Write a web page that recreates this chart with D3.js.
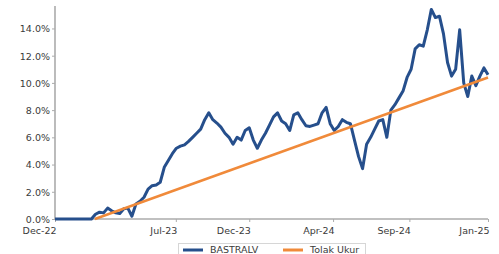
<!DOCTYPE html>
<meta charset="utf-8">
<html>
<head>
<style>
  body { margin: 0; background: #fff; }
  svg text { font-family: "DejaVu Sans", sans-serif; font-size: 9.5px; fill: #3a3a3a; }
  .axis path, .axis line { stroke: #ababab; }
</style>
</head>
<body>
<script src="https://cdn.jsdelivr.net/npm/d3@7"></script>
<script>
// weekly fund return (%), first week 2022-12-30
var startDate = "2022-12-30";
var fundValues = [
  0, 0, 0, 0, 0, 0, 0, 0, 0, 0,
  0.35, 0.5, 0.45, 0.8, 0.6, 0.45, 0.4, 0.75, 0.8, 0.2,
  1.1, 1.3, 1.6, 2.2, 2.45, 2.5, 2.7, 3.8, 4.3, 4.8,
  5.2, 5.35, 5.45, 5.7, 6.0, 6.3, 6.6, 7.3, 7.8, 7.3,
  7.05, 6.75, 6.3, 6.0, 5.5, 6.0, 5.8, 6.5, 6.7, 5.8,
  5.2, 5.8, 6.3, 6.9, 7.5, 7.8, 7.2, 7.0, 6.5, 7.65,
  7.8, 7.3, 6.85, 6.8, 6.9, 7.0, 7.8, 8.2, 7.0, 6.5,
  6.8, 7.3, 7.1, 7.0, 5.8, 4.6, 3.7, 5.5, 6.0, 6.6,
  7.2, 7.3, 6.0, 8.0, 8.4, 8.9, 9.4, 10.4, 11.0, 12.5,
  12.8, 12.7, 13.9, 15.4, 14.8, 14.9, 13.6, 11.5, 10.5, 11.0,
  13.9, 10.0, 9.0, 10.5, 9.8, 10.5, 11.1, 10.6
];

// benchmark (Tolak Ukur)
var benchDates = ["2023-03-09", "2025-01-17"];
var benchValues = [0, 10.4];

var yTicks = [0, 2, 4, 6, 8, 10, 12, 14];
var xTickDates = ["2022-12-30", "2023-07-27", "2023-12-01", "2024-04-24", "2024-09-03", "2025-01-17"];

var seriesNames = ["BASTRALV", "Tolak Ukur"];
var seriesColors = ["#264f8c", "#f08a3a"];

var W = 499, H = 254;
var margin = {top: 6, right: 11, bottom: 35, left: 55};

var parse = d3.timeParse("%Y-%m-%d");
var t0 = parse(startDate);
var fund = fundValues.map(function(v, i) {
  return {date: d3.timeDay.offset(t0, i * 7), value: v};
});
var bench = benchDates.map(function(d, i) {
  return {date: parse(d), value: benchValues[i]};
});

var svg = d3.select("body").append("svg")
  .attr("width", W)
  .attr("height", H);

var x = d3.scaleTime()
  .domain([t0, parse("2025-01-17")])
  .range([margin.left, W - margin.right]);

var y = d3.scaleLinear()
  .domain([0, 15.65])
  .range([H - margin.bottom, margin.top]);

// y axis
var gy = svg.append("g")
  .attr("class", "axis")
  .attr("transform", "translate(" + margin.left + ",0)")
  .call(d3.axisLeft(y).tickValues(yTicks).tickSize(3).tickPadding(2)
    .tickFormat(function(d) { return d.toFixed(1) + "%"; }));
gy.select(".domain").attr("stroke-width", 1.6).attr("d", "M0," + margin.top + "V" + (H - margin.bottom));
gy.selectAll("text").attr("dy", "0.35em");

// x axis
var gx = svg.append("g")
  .attr("class", "axis")
  .attr("transform", "translate(0," + (H - margin.bottom) + ")")
  .call(d3.axisBottom(x).tickValues(xTickDates.map(parse)).tickSize(3).tickPadding(5)
    .tickFormat(d3.timeFormat("%b-%y")));
gx.select(".domain").attr("stroke-width", 1.6).attr("d", "M" + margin.left + ",0H" + (W - margin.right));
gx.selectAll(".tick text").attr("text-anchor", "end").attr("dx", "1");

var line = d3.line()
  .x(function(d) { return x(d.date); })
  .y(function(d) { return y(d.value); });

svg.append("path")
  .datum(fund)
  .attr("fill", "none")
  .attr("stroke", seriesColors[0])
  .attr("stroke-width", 3)
  .attr("stroke-linejoin", "round")
  .attr("d", line);

svg.append("path")
  .datum(bench)
  .attr("fill", "none")
  .attr("stroke", seriesColors[1])
  .attr("stroke-width", 2.5)
  .attr("d", line);

// legend
var lg = svg.append("g");
lg.append("rect")
  .attr("x", 178.5).attr("y", 243.5)
  .attr("width", 187).attr("height", 20)
  .attr("fill", "#fff")
  .attr("stroke", "#d6d6d6");

var legX = [183, 283];
seriesNames.forEach(function(name, i) {
  lg.append("line")
    .attr("x1", legX[i]).attr("x2", legX[i] + 20)
    .attr("y1", 250).attr("y2", 250)
    .attr("stroke", seriesColors[i])
    .attr("stroke-width", 3);
  lg.append("text")
    .attr("x", legX[i] + 27)
    .attr("y", 253)
    .text(name);
});
</script>
</body>
</html>
